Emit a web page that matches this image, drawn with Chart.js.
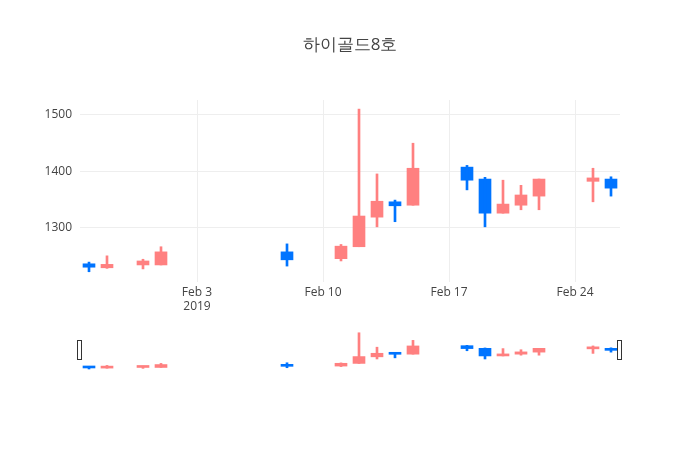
<!DOCTYPE html>
<html><head><meta charset="utf-8">
<script src="https://cdn.jsdelivr.net/npm/chart.js@4"></script>
<style>
body{margin:0;background:#fff;font-family:"Open Sans",sans-serif}
#wrap{position:relative;width:700px;height:450px}
canvas{position:absolute;left:0;top:0}
#title{position:absolute;top:32px;width:700px;text-align:center;font-size:17px;color:#444}
</style></head><body>
<div id="wrap">
<canvas id="main" width="700" height="450"></canvas>
<canvas id="slider" width="700" height="450"></canvas>
<div id="title">하이골드8호</div>
</div>
<script>
// days relative to Feb 3 2019
const days = [-6, -5, -3, -2, 5, 8, 9, 10, 11, 12, 15, 16, 17, 18, 19, 22, 23];
const open  = [1237, 1230, 1235, 1235, 1258, 1246, 1267, 1319, 1346, 1340, 1407, 1386, 1326, 1340, 1356, 1382, 1386];
const close = [1231, 1236, 1242, 1258, 1244, 1268, 1321, 1347, 1339, 1405, 1384, 1326, 1342, 1358, 1386, 1388, 1370];
const high  = [1240, 1251, 1245, 1267, 1272, 1271, 1509, 1395, 1349, 1449, 1410, 1389, 1384, 1375, 1386, 1405, 1390];
const low   = [1223, 1229, 1228, 1235, 1233, 1242, 1267, 1302, 1311, 1340, 1367, 1302, 1326, 1332, 1332, 1346, 1356];
const tickDays = [0, 7, 14, 21];
const tickLabels = [['Feb 3', '2019'], ['Feb 10'], ['Feb 17'], ['Feb 24']];
const yTicks = [1300, 1400, 1500];

const UP = '#ff8080', DOWN = '#0074ff';
const col = days.map((d, i) => close[i] >= open[i] ? UP : DOWN);
const wicks = days.map((d, i) => ({ x: d, y: [low[i], high[i]] }));
const bodies = days.map((d, i) => ({ x: d, y: [Math.min(open[i], close[i]), Math.max(open[i], close[i])] }));

function datasets(bw, ww) {
  return [
    { data: wicks, backgroundColor: col, barThickness: ww, grouped: false },
    { data: bodies, backgroundColor: col, barThickness: bw, grouped: false, minBarLength: 2 },
  ];
}
const xRange = { min: -6.5, max: 23.5 };

new Chart(document.getElementById('main'), {
  type: 'bar',
  data: { datasets: datasets(12, 2) },
  options: {
    responsive: false, animation: false,
    layout: { padding: { left: 20, right: 80, top: 100, bottom: 138 } },
    plugins: { legend: { display: false }, tooltip: { enabled: false } },
    scales: {
      x: {
        type: 'linear', ...xRange, offset: false,
        afterBuildTicks: (s) => { s.ticks = tickDays.map((v) => ({ value: v })); },
        afterFit: (s) => { s.height = 30; },
        ticks: { color: '#444', font: { family: 'Open Sans', size: 12 }, maxRotation: 0,
          callback: (v) => tickLabels[tickDays.indexOf(v)] },
        grid: { color: '#eee', drawTicks: false, offset: false }, border: { display: false },
      },
      y: {
        min: 1205, max: 1525,
        afterBuildTicks: (s) => { s.ticks = yTicks.map((v) => ({ value: v })); },
        afterFit: (s) => { s.width = 60; },
        ticks: { color: '#444', font: { family: 'Open Sans', size: 12 }, padding: 8, callback: (v) => String(v) },
        grid: { color: '#eee', drawTicks: false }, border: { display: false },
      },
    },
  },
});

const handles = {
  id: 'handles',
  afterDraw(c) {
    const { ctx, chartArea: a } = c;
    ctx.save();
    ctx.fillStyle = '#fff'; ctx.strokeStyle = '#333';
    [a.left - 3, a.right - 3].forEach((x) => {
      ctx.fillRect(x, 340, 5, 20); ctx.strokeRect(x + 0.5, 340.5, 4, 19);
    });
    ctx.restore();
  },
};
new Chart(document.getElementById('slider'), {
  type: 'bar',
  data: { datasets: datasets(12, 2) },
  plugins: [handles],
  options: {
    responsive: false, animation: false,
    layout: { padding: { left: 80, right: 80, top: 332, bottom: 80 } },
    plugins: { legend: { display: false }, tooltip: { enabled: false } },
    scales: {
      x: { type: 'linear', ...xRange, offset: false, display: false },
      y: { min: 1215, max: 1515, display: false },
    },
  },
});
</script>
</body></html>
